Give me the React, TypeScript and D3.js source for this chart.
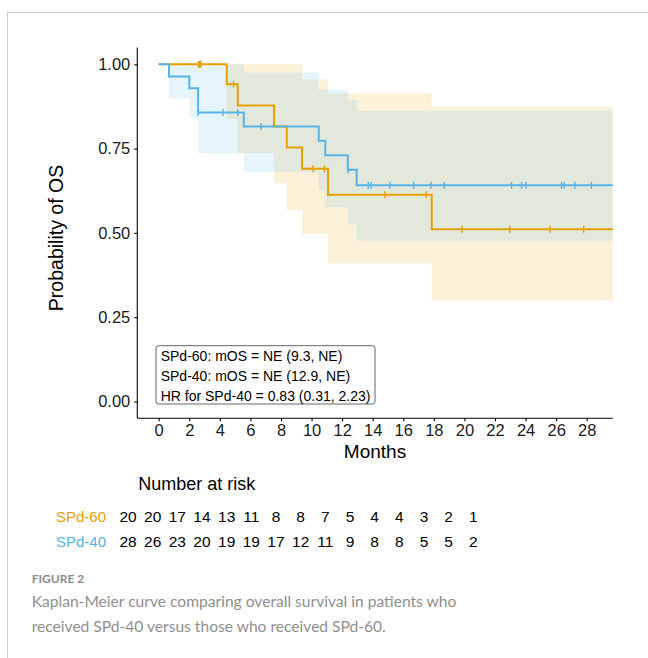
import React, { useEffect, useRef } from 'react'
import * as d3 from 'd3'

// SPd-60 arm: KM steps, 95% CI band, censor times
const sixtyTimes = [0, 4.45, 5.17, 7.55, 8.38, 9.38, 11.08, 17.86]
const sixtySurv = [1, 0.941, 0.878, 0.816, 0.753, 0.69, 0.613, 0.511]
const sixtyLower = [1, 0.838, 0.736, 0.647, 0.568, 0.497, 0.41, 0.299]
const sixtyUpper = [1, 1, 1, 1, 1, 0.956, 0.914, 0.874]
const sixtyCensor = [2.6, 2.68, 2.75, 4.9, 10.1, 10.84, 14.8, 17.5, 19.84, 22.97, 25.6, 27.8]

// SPd-40 arm
const fortyTimes = [0, 0.67, 2.0, 2.58, 5.57, 10.47, 10.9, 12.37, 12.95]
const fortySurv = [1, 0.964, 0.929, 0.857, 0.816, 0.773, 0.73, 0.687, 0.641]
const fortyLower = [1, 0.899, 0.84, 0.736, 0.681, 0.627, 0.576, 0.526, 0.477]
const fortyUpper = [1, 1, 1, 1, 0.976, 0.924, 0.924, 0.894, 0.862]
const fortyCensor = [2.58, 4.2, 5.17, 6.7, 12.4, 13.71, 13.89, 15.13, 16.68, 17.81, 18.68,
  23.08, 23.74, 24.02, 26.35, 26.52, 27.22, 28.31]

const followUpEnd = 29.7

const xTicks = [0, 2, 4, 6, 8, 10, 12, 14, 16, 18, 20, 22, 24, 26, 28]
const yTicks = [0, 0.25, 0.5, 0.75, 1]

// number at risk table
const riskTimes = [0, 2, 4, 6, 8, 10, 12, 14, 16, 18, 20, 22, 24, 26, 28]
const sixtyAtRisk = [20, 20, 17, 14, 13, 11, 8, 8, 7, 5, 4, 4, 3, 2, 1]
const fortyAtRisk = [28, 26, 23, 20, 19, 19, 17, 12, 11, 9, 8, 8, 5, 5, 2]

const legendLines = [
  'SPd-60: mOS = NE (9.3, NE)',
  'SPd-40: mOS = NE (12.9, NE)',
  'HR for SPd-40 = 0.83 (0.31, 2.23)',
]

const captionLines = [
  'Kaplan-Meier curve comparing overall survival in patients who',
  'received SPd-40 versus those who received SPd-60.',
]

const ORANGE = '#E69F00'
const BLUE = '#56B4E9'
const FONT = '"Liberation Sans", Arial, sans-serif'

function App() {
  const ref = useRef<SVGSVGElement>(null)

  useEffect(() => {
    drawChart()
  })

  function drawChart() {
    const svg = d3.select(ref.current)
    svg.selectAll('*').remove()

    const panel = { left: 137.3, right: 612.7, top: 47.5, bottom: 418.3 }

    const x = d3.scaleLinear().domain([-1.4, followUpEnd]).range([panel.left, panel.right])
    const y = d3.scaleLinear().domain([-0.05, 1.05]).range([panel.bottom, panel.top])

    // outer frame of the figure
    svg.append('path')
      .attr('d', 'M7.5,658 V12.5 H648')
      .attr('fill', 'none')
      .attr('stroke', '#cccccc')
      .attr('stroke-width', 1)

    const arms = [
      { times: sixtyTimes, surv: sixtySurv, lower: sixtyLower, upper: sixtyUpper, censor: sixtyCensor, color: ORANGE },
      { times: fortyTimes, surv: fortySurv, lower: fortyLower, upper: fortyUpper, censor: fortyCensor, color: BLUE },
    ]

    const withEnd = (a: number[], times: number[]) =>
      times.map((t, i) => ({ t, v: a[i] })).concat([{ t: followUpEnd, v: a[a.length - 1] }])

    // CI ribbons
    arms.forEach(arm => {
      const pts = arm.times.map((t, i) => ({ t, lo: arm.lower[i], hi: arm.upper[i] }))
      pts.push({ t: followUpEnd, lo: arm.lower[arm.lower.length - 1], hi: arm.upper[arm.upper.length - 1] })
      const area = d3.area<any>()
        .curve(d3.curveStepAfter)
        .x(d => x(d.t))
        .y0(d => y(d.lo))
        .y1(d => y(d.hi))
      svg.append('path')
        .attr('d', area(pts))
        .attr('fill', arm.color)
        .attr('fill-opacity', 0.15)
    })

    // survival curves + censor ticks
    arms.forEach(arm => {
      const line = d3.line<any>()
        .curve(d3.curveStepAfter)
        .x(d => x(d.t))
        .y(d => y(d.v))
      svg.append('path')
        .attr('d', line(withEnd(arm.surv, arm.times)))
        .attr('fill', 'none')
        .attr('stroke', arm.color)
        .attr('stroke-width', 2)

      const survAt = (t: number) => arm.surv[d3.bisectRight(arm.times, t) - 1]
      svg.append('g')
        .selectAll('line')
        .data(arm.censor)
        .enter()
        .append('line')
        .attr('x1', d => x(d))
        .attr('x2', d => x(d))
        .attr('y1', d => y(survAt(d)) - 3.5)
        .attr('y2', d => y(survAt(d)) + 3.5)
        .attr('stroke', arm.color)
        .attr('stroke-width', 1.4)
    })

    // axes
    const yAxis = svg.append('g')
      .attr('transform', `translate(${panel.left},0)`)
      .call(d3.axisLeft(y).tickValues(yTicks).tickFormat(d3.format('.2f')).tickSize(3).tickPadding(4))
    yAxis.select('.domain').remove()
    yAxis.append('line')
      .attr('y1', panel.top).attr('y2', panel.bottom)
      .attr('stroke', '#000').attr('stroke-width', 1.1)

    const xAxis = svg.append('g')
      .attr('transform', `translate(0,${panel.bottom})`)
      .call(d3.axisBottom(x).tickValues(xTicks).tickFormat(d3.format('d')).tickSize(3).tickPadding(3))
    xAxis.select('.domain').remove()
    xAxis.append('line')
      .attr('x1', panel.left).attr('x2', panel.right)
      .attr('stroke', '#000').attr('stroke-width', 1.1)

    svg.selectAll('.tick line').attr('stroke', '#000').attr('stroke-width', 1.1)
    svg.selectAll('.tick text')
      .attr('fill', '#1a1a1a')
      .style('font-family', FONT)
      .style('font-size', '16.5px')

    svg.append('text')
      .attr('x', (panel.left + panel.right) / 2)
      .attr('y', 458.3)
      .attr('text-anchor', 'middle')
      .style('font-family', FONT)
      .style('font-size', '19px')
      .text('Months')

    svg.append('text')
      .attr('transform', 'translate(63,238) rotate(-90)')
      .attr('text-anchor', 'middle')
      .style('font-family', FONT)
      .style('font-size', '19.5px')
      .text('Probability of OS')

    // annotation box
    svg.append('rect')
      .attr('x', 156).attr('y', 345.7)
      .attr('width', 219).attr('height', 58.3)
      .attr('rx', 2.5)
      .attr('fill', 'white')
      .attr('stroke', '#555')
      .attr('stroke-width', 0.9)

    svg.append('g')
      .selectAll('text')
      .data(legendLines)
      .enter()
      .append('text')
      .attr('x', 160.7)
      .attr('y', (d, i) => 360.7 + i * 19.9)
      .style('font-family', FONT)
      .style('font-size', '14px')
      .attr('fill', '#000')
      .text(d => d)

    // number at risk
    svg.append('text')
      .attr('x', 138.3)
      .attr('y', 490)
      .style('font-family', FONT)
      .style('font-size', '18px')
      .text('Number at risk')

    const riskX = d3.scalePoint<number>().domain(riskTimes).range([128, 473.3])
    const rows = [
      { label: 'SPd-60', counts: sixtyAtRisk, color: ORANGE, y: 521.7 },
      { label: 'SPd-40', counts: fortyAtRisk, color: BLUE, y: 547.3 },
    ]
    rows.forEach(row => {
      svg.append('text')
        .attr('x', 106)
        .attr('y', row.y)
        .attr('text-anchor', 'end')
        .attr('fill', row.color)
        .style('font-family', FONT)
        .style('font-size', '15px')
        .text(row.label)

      svg.append('g')
        .selectAll('text')
        .data(row.counts)
        .enter()
        .append('text')
        .attr('x', (d, i) => riskX(riskTimes[i]) as number)
        .attr('y', row.y)
        .attr('text-anchor', 'middle')
        .style('font-family', FONT)
        .style('font-size', '15.5px')
        .text(d => d)
    })

    // caption
    svg.append('text')
      .attr('x', 31.7)
      .attr('y', 583.3)
      .attr('fill', '#8a8a8a')
      .style('font-family', 'Lato, "Open Sans", sans-serif')
      .style('font-weight', 700)
      .style('font-size', '12px')
      .text('FIGURE 2')

    svg.append('g')
      .selectAll('text')
      .data(captionLines)
      .enter()
      .append('text')
      .attr('x', 31.7)
      .attr('y', (d, i) => 606.7 + i * 25)
      .attr('fill', '#8f8f8f')
      .style('font-family', 'Lato, "Open Sans", sans-serif')
      .style('font-size', '15.6px')
      .text(d => d)
  }

  return (
    <svg
      ref={ref}
      width={648}
      height={658}
      style={{ position: 'absolute', left: 0, top: 0, background: 'white' }}
    />
  )
}

export default App
